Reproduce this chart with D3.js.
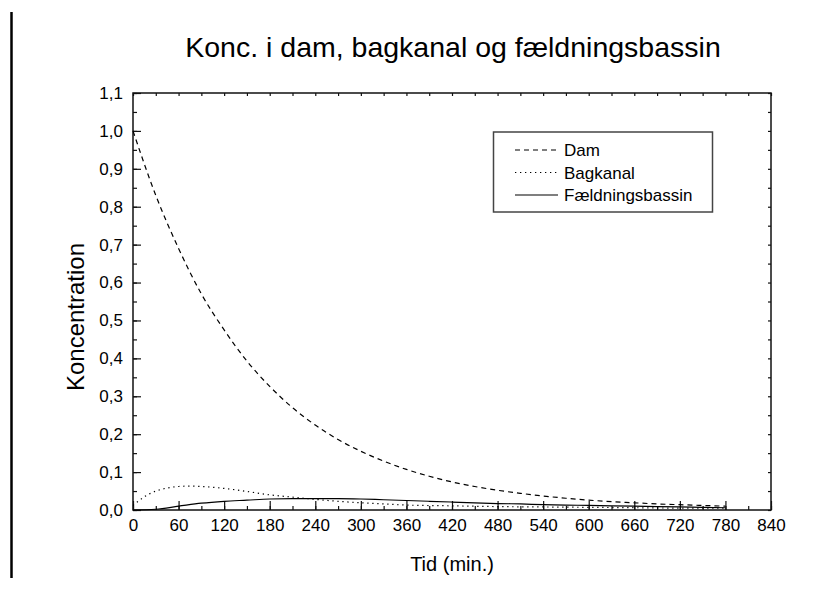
<!DOCTYPE html>
<html><head><meta charset="utf-8">
<script src="https://cdn.jsdelivr.net/npm/d3@7"></script>
<style>
body{margin:0;background:#fff}
svg{display:block}
text{font-family:"Liberation Sans",Arial,Helvetica,sans-serif;fill:#000}
</style>
</head><body>
<svg id="chart" width="835" height="595"></svg>
<script>
// ---- data ----
const titleText = "Konc. i dam, bagkanal og fældningsbassin";
const xLabel = "Tid (min.)";
const yLabel = "Koncentration";
const seriesNames = ["Dam", "Bagkanal", "Fældningsbassin"];

const xTicks = [0,60,120,180,240,300,360,420,480,540,600,660,720,780,840];
const yTicks = [0,0.1,0.2,0.3,0.4,0.5,0.6,0.7,0.8,0.9,1.0,1.1];

const damTime   = [0,30,60,90,120,150,180,210,240,270,300,330,360,390,420,450,480,510,540,570,600,630,660,690,720,750,780];
const damValues = [1.0,0.83,0.69,0.57,0.475,0.393,0.326,0.270,0.224,0.186,0.155,0.129,0.107,0.089,0.074,0.062,0.052,0.044,0.037,0.031,0.026,0.022,0.019,0.016,0.014,0.012,0.010];

const bagTime   = [0,15,30,45,60,75,90,120,150,180,210,240,270,300,330,360,420,480,540,600,660,720,780];
const bagValues = [0.012,0.035,0.050,0.058,0.062,0.063,0.062,0.057,0.049,0.040,0.034,0.028,0.023,0.019,0.016,0.013,0.011,0.009,0.008,0.007,0.006,0.005,0.005];

const faeldTime   = [0,30,60,90,120,150,180,210,240,270,300,330,360,390,420,450,480,510,540,570,600,630,660,690,720,750,780];
const faeldValues = [0.000,0.002,0.010,0.018,0.023,0.026,0.029,0.030,0.030,0.030,0.029,0.027,0.025,0.023,0.021,0.019,0.017,0.016,0.014,0.013,0.012,0.011,0.010,0.009,0.008,0.007,0.006];

// ---- layout ----
const svg = d3.select("#chart");
const L = 133, R = 771, T = 93, B = 510;
const x = d3.scaleLinear().domain([0,840]).range([L,R]);
const y = d3.scaleLinear().domain([0,1.1]).range([B,T]);
const fmtY = d => d.toFixed(1).replace(".", ",");

// left page rule
svg.append("line").attr("x1",11.5).attr("x2",11.5).attr("y1",12).attr("y2",578)
  .attr("stroke","#000").attr("stroke-width",2.5);

// title
svg.append("text").attr("x",453).attr("y",57).attr("text-anchor","middle")
  .style("font-size","28.5px").text(titleText);

const axisStyle = g => {
  g.select(".domain").remove();
  g.selectAll(".tick line").attr("stroke","#111").attr("stroke-width",1.2);
};

const yMinor = d3.range(0,23).map(i => i*0.05);
const xMinor = d3.range(0,29).map(i => i*30);

// minor ticks
svg.append("g").attr("transform",`translate(${L},0)`)
  .call(d3.axisLeft(y).tickValues(yMinor).tickSize(-4).tickFormat(""))
  .call(axisStyle);
svg.append("g").attr("transform",`translate(0,${B})`)
  .call(d3.axisBottom(x).tickValues(xMinor).tickSize(-4).tickFormat(""))
  .call(axisStyle);
svg.append("g").attr("transform",`translate(0,${T})`)
  .call(d3.axisTop(x).tickValues(xMinor).tickSize(-3).tickFormat(""))
  .call(axisStyle);
svg.append("g").attr("transform",`translate(${R},0)`)
  .call(d3.axisRight(y).tickValues(yMinor).tickSize(-3).tickFormat(""))
  .call(axisStyle);

// major ticks + labels
const yAx = svg.append("g").attr("transform",`translate(${L},0)`)
  .call(d3.axisLeft(y).tickValues(yTicks).tickSize(-8).tickPadding(10).tickFormat(fmtY))
  .call(axisStyle);
yAx.selectAll("text").style("font-size","17px").attr("fill","#000");
const xAx = svg.append("g").attr("transform",`translate(0,${B})`)
  .call(d3.axisBottom(x).tickValues(xTicks).tickSize(-9).tickPadding(9))
  .call(axisStyle);
xAx.selectAll("text").style("font-size","17px").attr("fill","#000");

// frame
svg.append("rect").attr("x",L).attr("y",T).attr("width",R-L).attr("height",B-T)
  .attr("fill","none").attr("stroke","#111").attr("stroke-width",1.5);

// axis titles
svg.append("text").attr("x",452).attr("y",571).attr("text-anchor","middle")
  .style("font-size","20px").text(xLabel);
svg.append("text").attr("transform",`translate(84,317) rotate(-90)`).attr("text-anchor","middle")
  .style("font-size","24px").text(yLabel);

// lines
const styles = [
  {dash:"5,4"},
  {dash:"1.3,3.7"},
  {dash:null}
];
const seriesData = [
  damTime.map((t,i)=>[t,damValues[i]]),
  bagTime.map((t,i)=>[t,bagValues[i]]),
  faeldTime.map((t,i)=>[t,faeldValues[i]])
];
const line = d3.line().x(d=>x(d[0])).y(d=>y(d[1])).curve(d3.curveMonotoneX);
seriesData.forEach((s,i)=>{
  svg.append("path").datum(s).attr("d",line).attr("fill","none")
    .attr("stroke","#000").attr("stroke-width",1.2)
    .attr("stroke-dasharray",styles[i].dash);
});

// legend
const lg = svg.append("g");
lg.append("rect").attr("x",493.5).attr("y",132).attr("width",219).attr("height",80)
  .attr("fill","#fff").attr("stroke","#444").attr("stroke-width",1.5);
seriesNames.forEach((n,i)=>{
  const by = 156 + i*22.5;
  lg.append("line").attr("x1",515).attr("x2",558).attr("y1",by-6).attr("y2",by-6)
    .attr("stroke","#000").attr("stroke-width",1.2).attr("stroke-dasharray",styles[i].dash);
  lg.append("text").attr("x",564).attr("y",by).style("font-size","17px").text(n);
});
</script>
</body></html>
